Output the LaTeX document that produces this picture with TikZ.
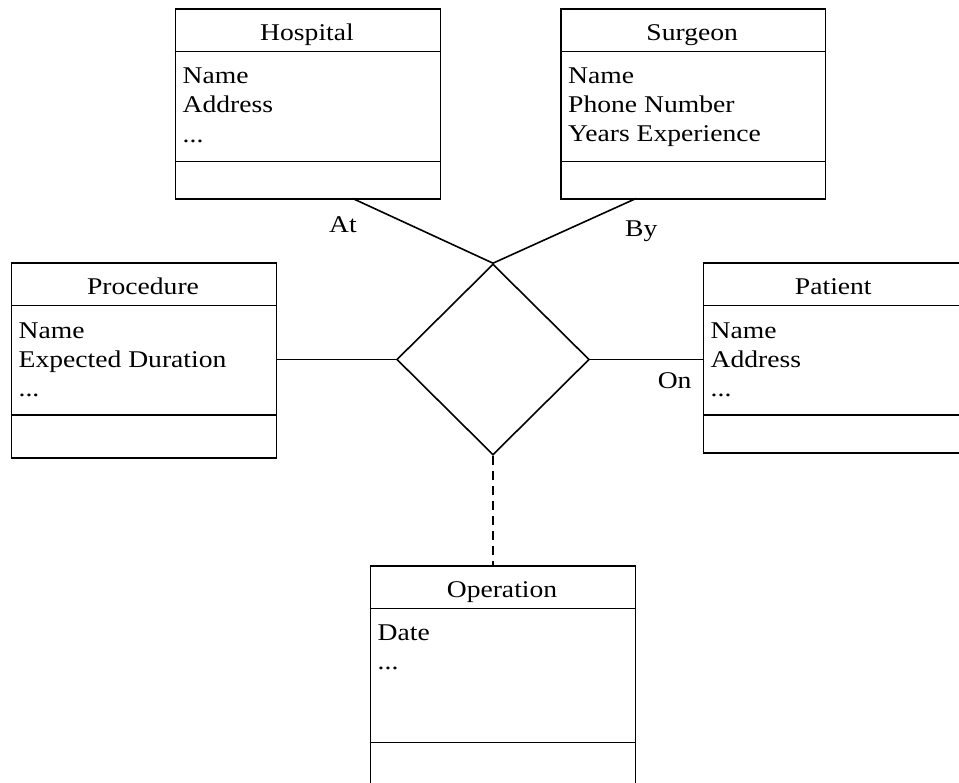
\documentclass[tikz,border=0pt]{standalone}
\usepackage{fontspec}
\setmainfont[FakeStretch=1.15]{Liberation Serif}
\usetikzlibrary{shapes.geometric}
\begin{document}
\begin{tikzpicture}[x=1pt, y=-1pt,
  every node/.style={font=\fontsize{24}{28}\selectfont},
  box/.style={draw, line width=1.6pt, rectangle, inner sep=0pt, anchor=north west},
  sepline/.style={line width=1.6pt},
  title/.style={anchor=base, inner sep=0pt},
  attr/.style={anchor=base west, inner sep=0pt},
  rolelabel/.style={inner sep=0pt},
  rel/.style={draw, line width=1.6pt, diamond, shape aspect=1, inner sep=0pt,
              minimum width=192.6pt, minimum height=191pt},
  link/.style={line width=1.6pt},
  dottedlink/.style={line width=1.6pt, dash pattern=on 9pt off 6pt}]
\useasboundingbox (0,0) rectangle (959,783);
\clip (0,0) rectangle (959,783);

% Hospital
\node[box, minimum width=265pt, minimum height=190pt] (hosp) at (174.5,8.5) {};
\draw[sepline] ([yshift=-43pt]hosp.north west) -- ([yshift=-43pt]hosp.north east);
\draw[sepline] ([yshift=-153pt]hosp.north west) -- ([yshift=-153pt]hosp.north east);
\node[title] (hospT) at (307,40.7) {Hospital};
\node[attr] (hospA1) at (182.5,84) {Name};
\node[attr] (hospA2) at (182.5,113) {Address};
\node[attr] (hospA3) at (182.5,143) {...};

% Surgeon
\node[box, minimum width=264.5pt, minimum height=190pt] (surg) at (560,8.5) {};
\draw[sepline] ([yshift=-43pt]surg.north west) -- ([yshift=-43pt]surg.north east);
\draw[sepline] ([yshift=-153pt]surg.north west) -- ([yshift=-153pt]surg.north east);
\node[title] (surgT) at (692.2,40.7) {Surgeon};
\node[attr] (surgA1) at (568,84) {Name};
\node[attr] (surgA2) at (568,113) {Phone Number};
\node[attr] (surgA3) at (568,141.7) {Years Experience};

% Procedure
\node[box, minimum width=265pt, minimum height=195pt] (proc) at (10.5,262.5) {};
\draw[sepline] ([yshift=-43pt]proc.north west) -- ([yshift=-43pt]proc.north east);
\draw[sepline] ([yshift=-152.5pt]proc.north west) -- ([yshift=-152.5pt]proc.north east);
\node[title] (procT) at (143,295) {Procedure};
\node[attr] (procA1) at (18.5,338.3) {Name};
\node[attr] (procA2) at (18.5,367.8) {Expected Duration};
\node[attr] (procA3) at (18.5,397) {...};

% Patient
\node[box, minimum width=261.5pt, minimum height=190pt] (pat) at (702.5,262.5) {};
\draw[sepline] ([yshift=-43pt]pat.north west) -- ([yshift=-43pt]pat.north east);
\draw[sepline] ([yshift=-152.5pt]pat.north west) -- ([yshift=-152.5pt]pat.north east);
\node[title] (patT) at (833.3,295) {Patient};
\node[attr] (patA1) at (710.5,338.3) {Name};
\node[attr] (patA2) at (710.5,367.8) {Address};
\node[attr] (patA3) at (710.5,397) {...};

% Operation
\node[box, minimum width=265pt, minimum height=260pt] (op) at (369.5,565) {};
\draw[sepline] ([yshift=-43.5pt]op.north west) -- ([yshift=-43.5pt]op.north east);
\draw[sepline] ([yshift=-177.5pt]op.north west) -- ([yshift=-177.5pt]op.north east);
\node[title] (opT) at (502,597) {Operation};
\node[attr] (opA1) at (377.5,640) {Date};
\node[attr] (opA2) at (377.5,669.5) {...};

% Relationship
\node[rel] (rel) at (493,359.5) {};
\coordinate (hospEnd) at (352.7,198.5);
\coordinate (surgEnd) at (636,198.5);
\draw[link] (hospEnd) -- (rel.north);
\draw[link] (surgEnd) -- (rel.north);
\draw[link] (rel.west) -- (rel.west -| proc.east);
\draw[link] (rel.east) -- (rel.east -| pat.west);
\draw[dottedlink] (rel.south) -- (rel.south |- op.north);

% Role labels
\node[rolelabel, anchor=base west] (lblAt) at (329,232.7) {At};
\node[rolelabel, anchor=base west] (lblBy) at (625,236.7) {By};
\node[rolelabel, anchor=base east] (lblOn) at (691.7,388.3) {On};
\end{tikzpicture}
\end{document}
